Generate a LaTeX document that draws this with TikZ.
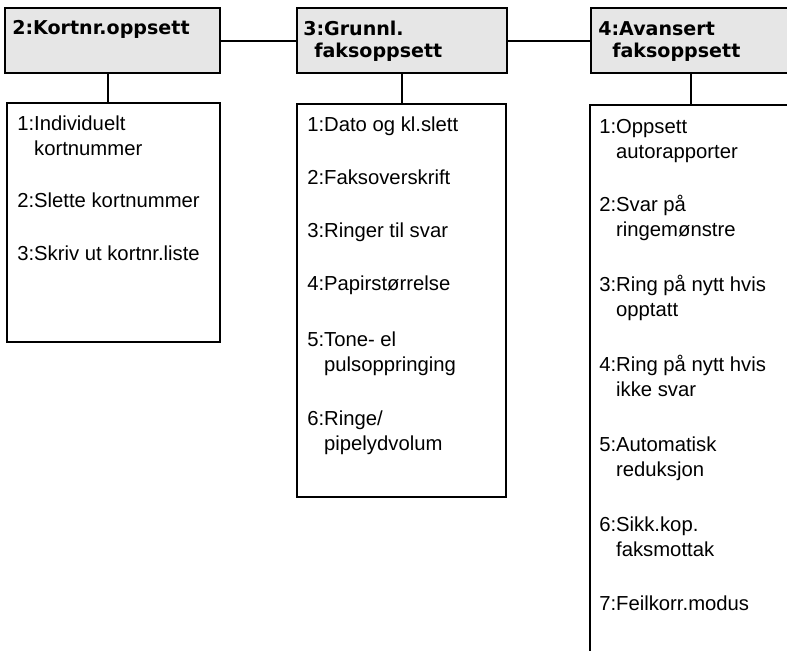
\documentclass[tikz,border=0pt]{standalone}
\usepackage{fontspec}
\setmainfont{Liberation Sans}
\newfontfamily\headfont{DejaVu Sans}
\definecolor{headgray}{HTML}{E6E6E6}
\newcommand{\itemsize}{\fontsize{15.2pt}{18pt}\selectfont}
\newcommand{\headsize}{\headfont\fontsize{14.3pt}{17pt}\selectfont\bfseries}
\begin{document}
\begin{tikzpicture}[x=0.75pt,y=-0.75pt,
  frame/.style={draw=black,line width=1.5pt,anchor=north west,inner sep=0pt,outer sep=0pt},
  headbox/.style={frame,fill=headgray,minimum height=48.75pt},
  menubox/.style={frame,fill=white},
  headtext/.style={anchor=base west,inner sep=0pt,font=\headsize},
  itemtext/.style={anchor=base west,inner sep=0pt,font=\itemsize},
  link/.style={draw=black,line width=1.5pt}]
\useasboundingbox (0,0) rectangle (787,650);
\clip (0,0) rectangle (787,650);

% header boxes
\node[headbox,minimum width=161.25pt] (h1) at (5,8) {};
\node[headbox,minimum width=157.5pt] (h2) at (297,8) {};
\node[headbox,minimum width=150pt] (h3) at (591,8) {};

% submenu boxes
\node[menubox,minimum width=159.75pt,minimum height=179.25pt] (b1) at (7,103) {};
\node[menubox,minimum width=156.75pt,minimum height=294.75pt] (b2) at (297,104) {};
\node[menubox,minimum width=153.75pt,minimum height=416.25pt] (b3) at (590,105) {};

% connectors
\draw[link] (h1.east) -- (h2.west);
\draw[link] (h2.east) -- (h3.west);
\draw[link] ([xshift=-3.4pt]h1.south) -- ([xshift=-3.4pt]h1.south |- b1.north);
\draw[link] (h2.south) -- (h2.south |- b2.north);
\draw[link] (h3.south) -- (h3.south |- b3.north);

% header titles
\node[headtext] (t1) at (12,34) {2:Kortnr.oppsett};
\node[headtext] (t2a) at (303,35) {3:Grunnl.};
\node[headtext] (t2b) at (314,57) {faksoppsett};
\node[headtext] (t3a) at (598,35) {4:Avansert};
\node[headtext] (t3b) at (612,57) {faksoppsett};

% first submenu
\node[itemtext] (a1) at (17,130) {1:Individuelt};
\node[itemtext] (a1b) at (17,155) {\hphantom{1:}kortnummer};
\node[itemtext] (a2) at (17,207) {2:Slette kortnummer};
\node[itemtext] (a3) at (17,260) {3:Skriv ut kortnr.liste};

% second submenu
\node[itemtext] (c1) at (307,131) {1:Dato og kl.slett};
\node[itemtext] (c2) at (307,184) {2:Faksoverskrift};
\node[itemtext] (c3) at (307,237) {3:Ringer til svar};
\node[itemtext] (c4) at (307,290) {4:Papirstørrelse};
\node[itemtext] (c5) at (307,346) {5:Tone- el};
\node[itemtext] (c5b) at (307,371) {\hphantom{5:}pulsoppringing};
\node[itemtext] (c6) at (307,425) {6:Ringe/};
\node[itemtext] (c6b) at (307,450) {\hphantom{6:}pipelydvolum};

% third submenu
\node[itemtext] (d1) at (599,133) {1:Oppsett};
\node[itemtext] (d1b) at (599,158) {\hphantom{1:}autorapporter};
\node[itemtext] (d2) at (599,211) {2:Svar på};
\node[itemtext] (d2b) at (599,236) {\hphantom{2:}ringemønstre};
\node[itemtext] (d3) at (599,291) {3:Ring på nytt hvis};
\node[itemtext] (d3b) at (599,316) {\hphantom{3:}opptatt};
\node[itemtext] (d4) at (599,371) {4:Ring på nytt hvis};
\node[itemtext] (d4b) at (599,396) {\hphantom{4:}ikke svar};
\node[itemtext] (d5) at (599,451) {5:Automatisk};
\node[itemtext] (d5b) at (599,476) {\hphantom{5:}reduksjon};
\node[itemtext] (d6) at (599,531) {6:Sikk.kop.};
\node[itemtext] (d6b) at (599,556) {\hphantom{6:}faksmottak};
\node[itemtext] (d7) at (599,610) {7:Feilkorr.modus};
\end{tikzpicture}
\end{document}
